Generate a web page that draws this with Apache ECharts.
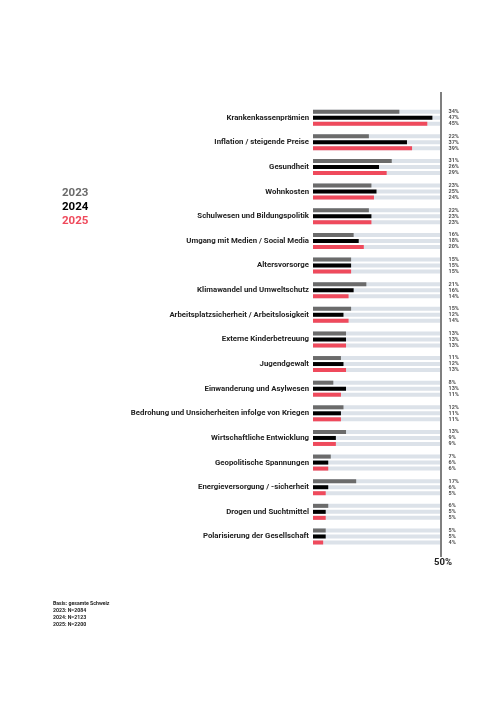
<!DOCTYPE html>
<html><head><meta charset="utf-8">
<script src="https://cdn.jsdelivr.net/npm/echarts@6/dist/echarts.min.js"></script>
<style>html,body{margin:0;padding:0;background:#fff}#c{width:500px;height:707px}</style>
</head><body><div id="c"></div>
<script>
const categories = ["Krankenkassenprämien","Inflation / steigende Preise","Gesundheit","Wohnkosten","Schulwesen und Bildungspolitik","Umgang mit Medien / Social Media","Altersvorsorge","Klimawandel und Umweltschutz","Arbeitsplatzsicherheit / Arbeitslosigkeit","Externe Kinderbetreuung","Jugendgewalt","Einwanderung und Asylwesen","Bedrohung und Unsicherheiten infolge von Kriegen","Wirtschaftliche Entwicklung","Geopolitische Spannungen","Energieversorgung / -sicherheit","Drogen und Suchtmittel","Polarisierung der Gesellschaft"];
const v2023 = [34,22,31,23,22,16,15,21,15,13,11,8,12,13,7,17,6,5];
const v2024 = [47,37,26,25,23,18,15,16,12,13,12,13,11,9,6,6,5,5];
const v2025 = [45,39,29,24,23,20,15,14,14,13,13,11,11,9,6,5,5,4];
const years = ["2023","2024","2025"];
const colors = ["#6b6b6b","#000000","#ef4a5c"];
const axisMax = 50;
const footnote = ["Basis: gesamte Schweiz","2023: N=2084","2024: N=2123","2025: N=2200"];

const FONT = "Roboto";
const chart = echarts.init(document.getElementById('c'));
const values = [v2023, v2024, v2025];
const offsets = [-6, 0, 6];
const series = [];
years.forEach((y, k) => {
  series.push({
    name: y, type: 'bar', data: values[k], barWidth: 4, barGap: '50%',
    itemStyle: { color: colors[k] },
    showBackground: true, backgroundStyle: { color: '#dce2e9' },
    z: 2
  });
});
years.forEach((y, k) => {
  series.push({
    name: y + 'lbl', type: 'scatter', symbolSize: 1,
    itemStyle: { color: 'rgba(0,0,0,0)' },
    data: values[k].map((v, i) => [axisMax, i, v]),
    encode: { x: 0, y: 1 },
    label: { show: true, position: 'right', distance: 8, offset: [0, offsets[k]],
      formatter: p => p.value[2] + '%', fontSize: 5.5, fontFamily: FONT, fontWeight: 'bold', color: '#222' },
    silent: true, z: 5
  });
});
chart.setOption({
  animation: false,
  textStyle: { fontFamily: FONT },
  grid: { left: 313, right: 60, top: 105.4, bottom: 158.2, containLabel: false },
  legend: {
    data: years.map((y, k) => ({ name: y, textStyle: { color: colors[k] } })),
    orient: 'vertical', left: 52, top: 182, icon: 'none', itemWidth: 0, itemHeight: 11, itemGap: 2,
    textStyle: { fontSize: 11.5, fontWeight: 'bold', fontFamily: FONT }, selectedMode: false
  },
  title: {
    text: footnote.join('\n'), left: 48, top: 595,
    textStyle: { fontSize: 5.2, fontWeight: 'bold', lineHeight: 7, color: '#222', fontFamily: FONT }
  },
  xAxis: {
    type: 'value', min: 0, max: axisMax, interval: axisMax,
    splitLine: { show: false }, axisLine: { show: false }, axisTick: { show: false },
    axisLabel: { formatter: v => v === axisMax ? v + '%' : '', showMinLabel: false, margin: 9,
      fontSize: 9.5, fontWeight: 'bold', color: '#222', fontFamily: FONT, padding: [0, 0, 0, 6] }
  },
  yAxis: {
    type: 'category', data: categories, inverse: true,
    axisLine: { show: false }, axisTick: { show: false },
    axisLabel: { fontSize: 7.8, fontWeight: 'bold', color: '#222', margin: 4, fontFamily: FONT, padding: [0, 0, 4, 0] }
  },
  series: series
});
const lx = chart.convertToPixel({ xAxisIndex: 0 }, axisMax);
chart.setOption({
  graphic: [{ type: 'line', shape: { x1: lx + 1, y1: 92, x2: lx + 1, y2: 557 }, style: { stroke: '#555', lineWidth: 1.5 }, z: 10 }]
});
</script></body></html>
